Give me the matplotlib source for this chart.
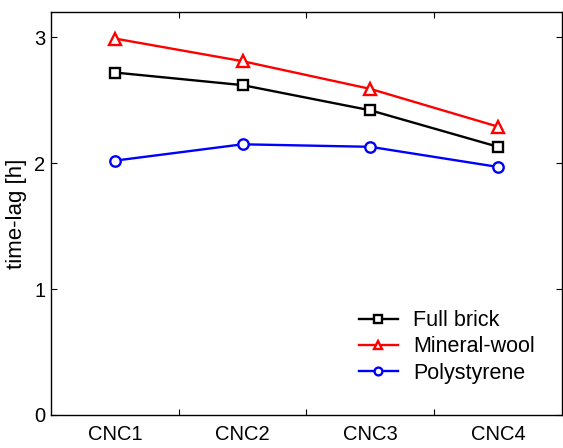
import matplotlib
matplotlib.use('Agg')
import matplotlib.pyplot as plt
import numpy as np

plt.rcParams['font.family'] = ['Liberation Sans', 'DejaVu Sans']

# 数据
cases = ['CNC1', 'CNC2', 'CNC3', 'CNC4']
full_brick = [2.72, 2.62, 2.42, 2.13]
mineral_wool = [2.99, 2.81, 2.59, 2.29]
polystyrene = [2.02, 2.15, 2.13, 1.97]

x = np.arange(1, len(cases) + 1)

fig = plt.figure(figsize=(5.63, 4.48), dpi=100)
ax = fig.add_axes([0.0906, 0.0737, 0.9074, 0.8993])

ax.plot(x, full_brick, color='black', lw=1.7, marker='s', ms=7.5,
        mfc='white', mec='black', mew=1.7, label='Full brick')
ax.plot(x, mineral_wool, color='red', lw=1.7, marker='^', ms=8.5,
        mfc='white', mec='red', mew=1.7, label='Mineral-wool')
ax.plot(x, polystyrene, color='blue', lw=1.7, marker='o', ms=7.5,
        mfc='white', mec='blue', mew=1.7, label='Polystyrene')

ax.set_xlim(0.5, 4.5)
ax.set_ylim(0, 3.2)

# 刻度在类别之间, 标签在类别处
ax.set_xticks([1.5, 2.5, 3.5])
ax.set_xticklabels([])
ax.set_xticks(x, minor=True)
ax.set_xticklabels(cases, minor=True)
ax.tick_params(axis='x', which='minor', length=0, pad=7, labelsize=14.5)
ax.set_yticks([0, 1, 2, 3])
ax.tick_params(axis='both', which='major', direction='in', length=4,
               top=True, right=True, labelsize=14.5)
ax.tick_params(axis='y', pad=4)

ax.set_ylabel('time-lag [h]', fontsize=16, labelpad=5)

for s in ax.spines.values():
    s.set_linewidth(1.0)

ax.legend(loc='upper left', bbox_to_anchor=(0.603, 0.26), frameon=False,
          fontsize=15.5, handlelength=1.8, handletextpad=0.7,
          labelspacing=0.24, markerscale=0.75, borderpad=0, borderaxespad=0)

fig.savefig('out.png', dpi=100)
